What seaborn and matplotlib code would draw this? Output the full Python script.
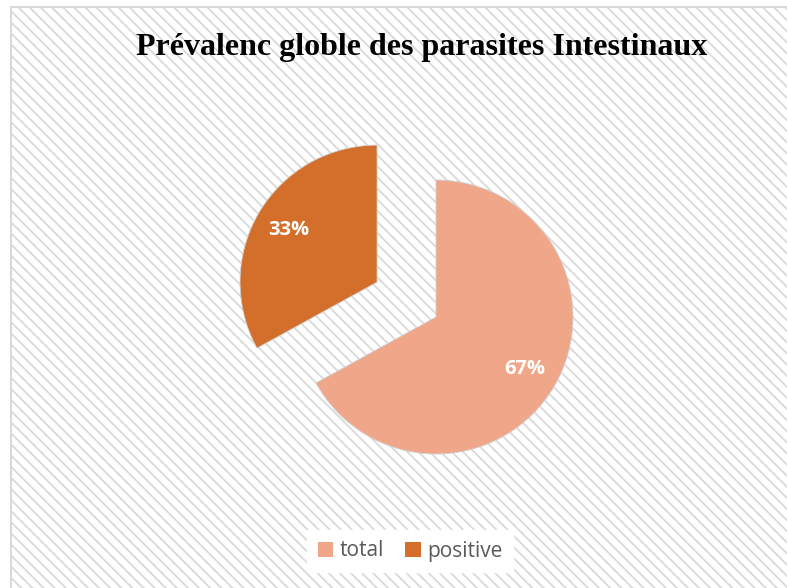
import matplotlib
matplotlib.use("Agg")
import matplotlib.pyplot as plt
import seaborn as sns
from matplotlib.patches import Rectangle

# Data
categories = ["total", "positive"]
values = [67, 33]
colors = ["#F0A789", "#D36F2B"]
title = "Prévalenc globle des parasites Intestinaux"

sns.set_theme(style="white")
plt.rcParams["hatch.color"] = "#f3f3f3"
plt.rcParams["hatch.linewidth"] = 1.3

W, H = 787, 588
fig = plt.figure(figsize=(W / 100, H / 100), dpi=100)
fig.patch.set_facecolor("white")

# background panel with diagonal stripes
bgax = fig.add_axes([0, 0, 1, 1], zorder=0)
bgax.set_xlim(0, W)
bgax.set_ylim(H, 0)
bgax.axis("off")
bgax.add_patch(Rectangle((11, 7), W, H, facecolor="white", edgecolor="#d9d9d9",
                         linewidth=1.5, hatch="\\\\\\"))

ax = fig.add_axes([0, 0, 1, 1], zorder=1)
ax.set_facecolor("none")
cx, cy, r = 436, 588 - 317, 137
wedges, texts, autotexts = ax.pie(
    values, colors=colors, startangle=90, counterclock=False,
    explode=[0, 0.5], autopct="%1.0f%%", pctdistance=0.75,
    wedgeprops=dict(linewidth=0.6, edgecolor="#d0d0d0"),
    textprops=dict(color="white", fontsize=14.5, fontweight="bold",
                   family="Open Sans"))
ax.set_xlim(-cx / r, (W - cx) / r)
ax.set_ylim(-cy / r, (H - cy) / r)
ax.set_aspect("auto")
ax.axis("off")

fig.text(422 / W, 1 - 48 / H, title, ha="center", va="center",
         fontsize=23, fontweight="bold", family="Liberation Serif", color="black",
         zorder=3)

leg = fig.legend(wedges, categories, loc="center", bbox_to_anchor=(410 / W, 1 - 551 / H),
                 ncol=2, frameon=True, fancybox=False, framealpha=1,
                 handlelength=0.75, handleheight=0.75, handletextpad=0.3,
                 columnspacing=1.0, borderpad=0.5,
                 prop=dict(family="Open Sans", size=15))
leg.set_zorder(3)
leg.get_frame().set_facecolor("white")
leg.get_frame().set_edgecolor("white")
for t in leg.get_texts():
    t.set_color("#595959")
for h in leg.legend_handles:
    h.set_edgecolor("none")

fig.savefig("out.png", dpi=100)
